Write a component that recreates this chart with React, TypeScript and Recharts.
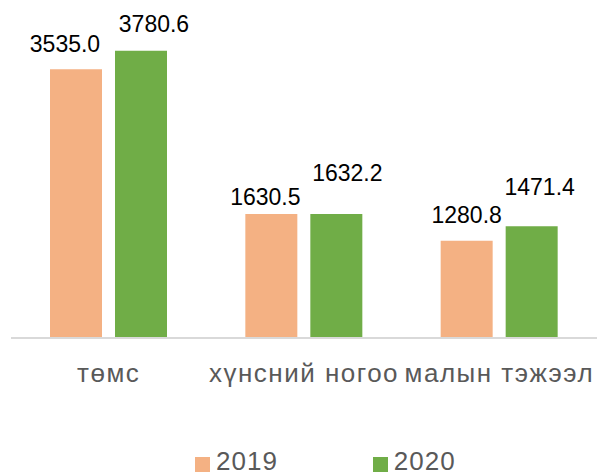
import { BarChart, Bar, XAxis, YAxis, Legend, LabelList } from "recharts";

const categories = ["төмс", "хүнсний ногоо", "малын тэжээл"];
const values2019 = [3535.0, 1630.5, 1280.8];
const values2020 = [3780.6, 1632.2, 1471.4];
const seriesNames = ["2019", "2020"];

const data = categories.map((name, i) => ({
  name,
  y2019: values2019[i],
  y2020: values2020[i],
}));

const COLORS = ["#F4B183", "#70AD47"];
const FONT = "Arial, 'Liberation Sans', sans-serif";

// label nudges (dx, gap above bar) so the value labels sit like the original
const labelShift2019 = [
  [-11, 17],
  [-6, 9],
  [0, 18],
];
const labelShift2020 = [
  [13, 19],
  [11, 33],
  [8, 31],
];

const makeLabel =
  (shift: number[][]) =>
  (props: any) => {
    const { x, y, width, value, index } = props;
    const [dx, gap] = shift[index] || [0, 10];
    return (
      <text
        x={Number(x) + Number(width) / 2 + dx}
        y={Number(y) - gap}
        textAnchor="middle"
        fontSize={23}
        fontFamily={FONT}
        fill="#000"
      >
        {Number(value).toFixed(1)}
      </text>
    );
  };

const CategoryTick = (props: any) => {
  const { x, y, payload } = props;
  return (
    <text
      x={x}
      y={y + 44}
      textAnchor="middle"
      fontSize={26}
      letterSpacing={1.5}
      fontFamily={FONT}
      fill="#595959"
    >
      {payload.value}
    </text>
  );
};

const LegendContent = () => (
  <div
    style={{
      display: "flex",
      alignItems: "center",
      height: 30,
      paddingLeft: 184,
      boxSizing: "border-box",
      fontFamily: FONT,
      fontSize: 26,
      letterSpacing: 1,
      color: "#595959",
    }}
  >
    {seriesNames.map((s, i) => (
      <div
        key={s}
        style={{ display: "flex", alignItems: "center", marginRight: i === 0 ? 95 : 0 }}
      >
        <span
          style={{
            display: "inline-block",
            width: 15,
            height: 15,
            background: COLORS[i],
            marginRight: 6,
            marginTop: 6,
          }}
        />
        <span style={{ lineHeight: "26px" }}>{s}</span>
      </div>
    ))}
  </div>
);

export default function App() {
  return (
    <div style={{ position: "absolute", left: 0, top: 0, width: 597, height: 476, background: "#fff", overflow: "hidden" }}>
      <BarChart
        width={597}
        height={476}
        data={data}
        margin={{ top: 34, right: 0, left: 11, bottom: 0 }}
        barCategoryGap={39}
        barGap={13}
      >
        <XAxis
          dataKey="name"
          axisLine={{ stroke: "#D9D9D9", strokeWidth: 2 }}
          tickLine={false}
          tickSize={0}
          tickMargin={0}
          height={108}
          tick={<CategoryTick />}
          interval={0}
        />
        <YAxis hide domain={[0, 4000]} />
        <Legend verticalAlign="bottom" height={30} content={<LegendContent />} />
        <Bar dataKey="y2019" name="2019" fill={COLORS[0]} isAnimationActive={false}>
          <LabelList dataKey="y2019" content={makeLabel(labelShift2019)} />
        </Bar>
        <Bar dataKey="y2020" name="2020" fill={COLORS[1]} isAnimationActive={false}>
          <LabelList dataKey="y2020" content={makeLabel(labelShift2020)} />
        </Bar>
      </BarChart>
    </div>
  );
}
